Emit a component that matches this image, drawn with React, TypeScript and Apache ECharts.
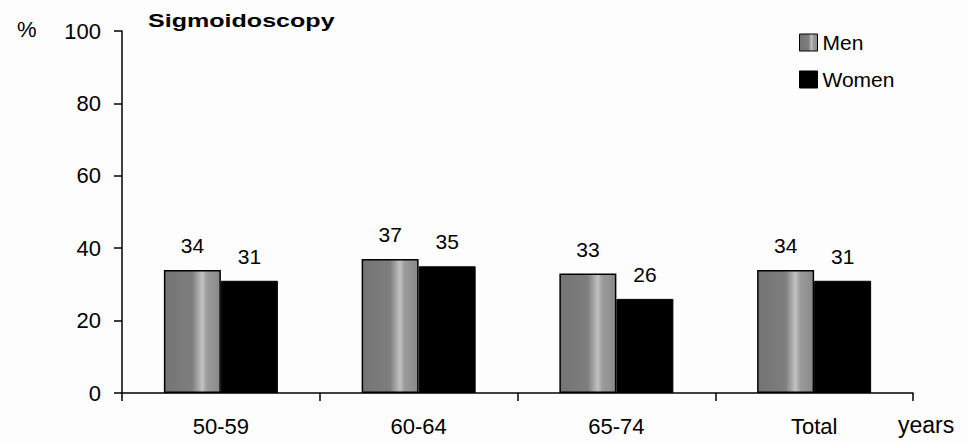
import React, { useEffect, useRef } from "react";
import * as echarts from "echarts";

const categories = ["50-59", "60-64", "65-74", "Total"];
const menValues = [34, 37, 33, 34];
const womenValues = [31, 35, 26, 31];
const yTicks = [0, 20, 40, 60, 80, 100];

const FONT = "'Liberation Sans', Arial, sans-serif";

export default function App() {
  const ref = useRef<HTMLDivElement>(null);
  useEffect(() => {
    if (!ref.current) return;
    const chart = echarts.init(ref.current, null, { renderer: "svg" });
    const menFill = new echarts.graphic.LinearGradient(0, 0, 1, 0, [
      { offset: 0, color: "#747474" },
      { offset: 0.5, color: "#7e7e7e" },
      { offset: 0.6, color: "#a4a4a4" },
      { offset: 0.68, color: "#c2c2c2" },
      { offset: 0.76, color: "#9c9c9c" },
      { offset: 1, color: "#888888" },
    ]);
    const labelCfg = {
      show: true,
      position: "top",
      distance: 14,
      fontFamily: FONT,
      fontSize: 21,
      color: "#000",
    };
    chart.setOption({
      animation: false,
      backgroundColor: "#fdfdfd",
      textStyle: { fontFamily: FONT },
      legend: {
        orient: "vertical",
        left: 794,
        top: 27,
        icon: "rect",
        itemWidth: 18,
        itemHeight: 17,
        itemGap: 16,
        itemStyle: { borderColor: "#000", borderWidth: 1 },
        textStyle: { fontFamily: FONT, fontSize: 21, color: "#000" },
        data: ["Men", "Women"],
      },
      grid: { left: 122, right: 54, top: 31, bottom: 49, containLabel: false },
      xAxis: {
        type: "category",
        data: categories,
        axisLine: { lineStyle: { color: "#000", width: 1.5 } },
        axisTick: { show: true, length: 8, lineStyle: { color: "#000", width: 1.5 } },
        axisLabel: { fontFamily: FONT, fontSize: 22, color: "#000", margin: 22 },
      },
      yAxis: {
        type: "value",
        min: yTicks[0],
        max: yTicks[yTicks.length - 1],
        interval: 20,
        splitLine: { show: false },
        axisLine: { show: true, lineStyle: { color: "#000", width: 1.5 } },
        axisTick: { show: true, length: 8, lineStyle: { color: "#000", width: 1.5 } },
        axisLabel: { fontFamily: FONT, fontSize: 22, color: "#000", margin: 21 },
      },
      graphic: [
        {
          type: "text",
          x: 148,
          y: 11,
          scaleX: 1.32,
          style: { text: "Sigmoidoscopy", font: `bold 19px ${FONT}`, fill: "#000", textVerticalAlign: "top" },
        },
        { type: "text", x: 17, y: 18, style: { text: "%", font: `22px ${FONT}`, fill: "#000", textVerticalAlign: "top" } },
        { type: "text", x: 898, y: 413, style: { text: "years", font: `23px ${FONT}`, fill: "#000", textVerticalAlign: "top" } },
      ],
      series: [
        {
          name: "Men",
          type: "bar",
          data: menValues,
          barWidth: 57,
          barGap: "0%",
          itemStyle: { color: menFill, borderColor: "#000", borderWidth: 1.5 },
          label: labelCfg,
        },
        {
          name: "Women",
          type: "bar",
          data: womenValues,
          barWidth: 57,
          barGap: "0%",
          itemStyle: { color: "#000", borderColor: "#000", borderWidth: 1 },
          label: labelCfg,
        },
      ],
    });
    return () => chart.dispose();
  }, []);
  return <div ref={ref} style={{ width: 967, height: 442, position: "absolute", left: 0, top: 0 }} />;
}
